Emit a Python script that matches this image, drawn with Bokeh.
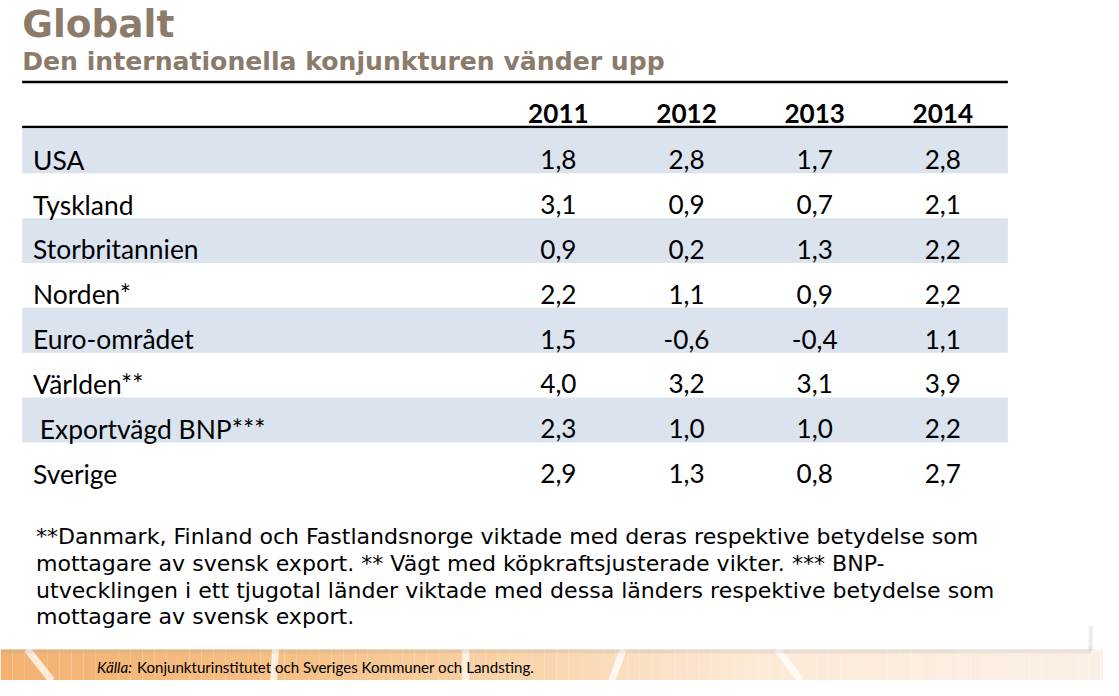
from bokeh.plotting import figure
from bokeh.models import Range1d
from bokeh.core.properties import value
from bokeh.embed import file_html
from bokeh.resources import INLINE

# ---------------- data ----------------
title = "Globalt"
subtitle = "Den internationella konjunkturen vänder upp"
years = ["2011", "2012", "2013", "2014"]
countries = ["USA", "Tyskland", "Storbritannien", "Norden*", "Euro-området",
             "Världen**", "\u00a0Exportvägd BNP***", "Sverige"]
v2011 = [1.8, 3.1, 0.9, 2.2, 1.5, 4.0, 2.3, 2.9]
v2012 = [2.8, 0.9, 0.2, 1.1, -0.6, 3.2, 1.0, 1.3]
v2013 = [1.7, 0.7, 1.3, 0.9, -0.4, 3.1, 1.0, 0.8]
v2014 = [2.8, 2.1, 2.2, 2.2, 1.1, 3.9, 2.2, 2.7]
footnote = [
    "**Danmark, Finland och Fastlandsnorge viktade med deras respektive betydelse som",
    "mottagare av svensk export. ** Vägt med köpkraftsjusterade vikter. *** BNP-",
    "utvecklingen i ett tjugotal länder viktade med dessa länders respektive betydelse som",
    "mottagare av svensk export.",
]
source_label = "Källa:"
source_text = "Konjunkturinstitutet och Sveriges Kommuner och Landsting."

# ---------------- layout ----------------
W, H = 1103, 680
RW, RH = 1119, 696            # reference design space
S = W / RW                    # font scale
TABLE_L, TABLE_R = 22, 1022
COL_X = [566, 696, 826, 956]
ROW0, PITCH = 131.0, 45.9
TITLE_COLOR = "#8C7B6B"
TFONT = value("Lato")
VFONT = value("DejaVu Sans")


def px(v):
    return "%.2fpx" % (v * S)


p = figure(width=W, height=H, x_range=Range1d(0, RW), y_range=Range1d(RH, 0),
           output_backend="svg", toolbar_location=None, min_border=0,
           x_axis_type=None, y_axis_type=None)
p.grid.visible = False
p.outline_line_color = None
p.background_fill_color = "white"
p.border_fill_color = "white"

# ---- bottom decorative band ----
def lerp(c1, c2, t):
    return tuple(int(round(a + (b - a) * t)) for a, b in zip(c1, c2))

stops = [(0, (243, 178, 112)), (300, (246, 192, 134)), (560, (249, 214, 176)),
         (760, (252, 234, 214)), (1119, (251, 240, 230))]
lefts, rights, cols = [], [], []
step = 12
x = 0
while x < RW:
    xm = x + step / 2
    c = stops[-1][1]
    for (xa, ca), (xb, cb) in zip(stops[:-1], stops[1:]):
        if xa <= xm <= xb:
            c = lerp(ca, cb, (xm - xa) / (xb - xa))
            break
    lefts.append(x); rights.append(x + step); cols.append("#%02x%02x%02x" % c)
    x += step
p.quad(left=lefts, right=rights, top=[664] * len(lefts), bottom=[696] * len(lefts),
       fill_color=cols, line_color=None)
# white streaks
p.segment(x0=[27, 279, 472, 632, 788], y0=[664] * 5, x1=[52, 277, 472, 620, 812], y1=[696] * 5,
          line_color="white", line_width=7, line_alpha=0.75)
# panel shadow
p.quad(left=[0], right=[1106], top=[661], bottom=[668], fill_color="#9a9a9a",
       fill_alpha=0.18, line_color=None)
p.quad(left=[0], right=[1104], top=[640], bottom=[664], fill_color="white", line_color=None)
p.quad(left=[1104], right=[1108], top=[640], bottom=[666], fill_color="#9a9a9a",
       fill_alpha=0.2, line_color=None)

# ---- title ----
p.text(x=[22], y=[24], text=[title], text_font=VFONT, text_font_style="bold",
       text_font_size=px(38), text_color=TITLE_COLOR, text_baseline="middle")
p.text(x=[22], y=[62.5], text=[subtitle], text_font=VFONT, text_font_style="bold",
       text_font_size=px(25.5), text_color=TITLE_COLOR, text_baseline="middle")

# ---- table rules ----
p.segment(x0=[TABLE_L, TABLE_L], y0=[83.5, 129.5], x1=[TABLE_R, TABLE_R], y1=[83.5, 129.5],
          line_color="black", line_width=2.5)

# ---- row bands ----
n = len(countries)
tops = [ROW0 + i * PITCH for i in range(n)]
band_tops = [t for i, t in enumerate(tops) if i % 2 == 0]
p.quad(left=[TABLE_L] * len(band_tops), right=[TABLE_R] * len(band_tops),
       top=band_tops, bottom=[t + PITCH for t in band_tops],
       fill_color="#DBE3EF", line_color=None)

# ---- header ----
p.text(x=COL_X, y=[116] * 4, text=years, text_font=TFONT, text_font_style="bold",
       text_font_size=px(26.5), text_color="black", text_align="center", text_baseline="middle")

# ---- rows ----
centers = [t + 32 for t in tops]
p.text(x=[33] * n, y=centers, text=countries, text_font=TFONT, text_font_size=px(26.8),
       text_color="black", text_baseline="middle")
fmt = lambda v: ("%.1f" % v).replace(".", ",")
for cx, vals in zip(COL_X, [v2011, v2012, v2013, v2014]):
    p.text(x=[cx] * n, y=centers, text=[fmt(v) for v in vals], text_font=TFONT,
           text_font_size=px(26.5), text_color="black", text_align="center",
           text_baseline="middle")

# ---- footnote ----
p.text(x=[36] * len(footnote), y=[548.5 + 27.5 * i for i in range(len(footnote))], text=footnote,
       text_font=VFONT, text_font_size=px(22.4), text_color="black",
       text_baseline="middle")

# ---- source ----
p.text(x=[98], y=[682], text=[source_label], text_font=TFONT, text_font_style="italic",
       text_font_size=px(15.3), text_color="black", text_baseline="middle")
p.text(x=[138.5], y=[682], text=[source_text], text_font=TFONT,
       text_font_size=px(15.3), text_color="black", text_baseline="middle")

open("out.html", "w").write(file_html(p, INLINE))
